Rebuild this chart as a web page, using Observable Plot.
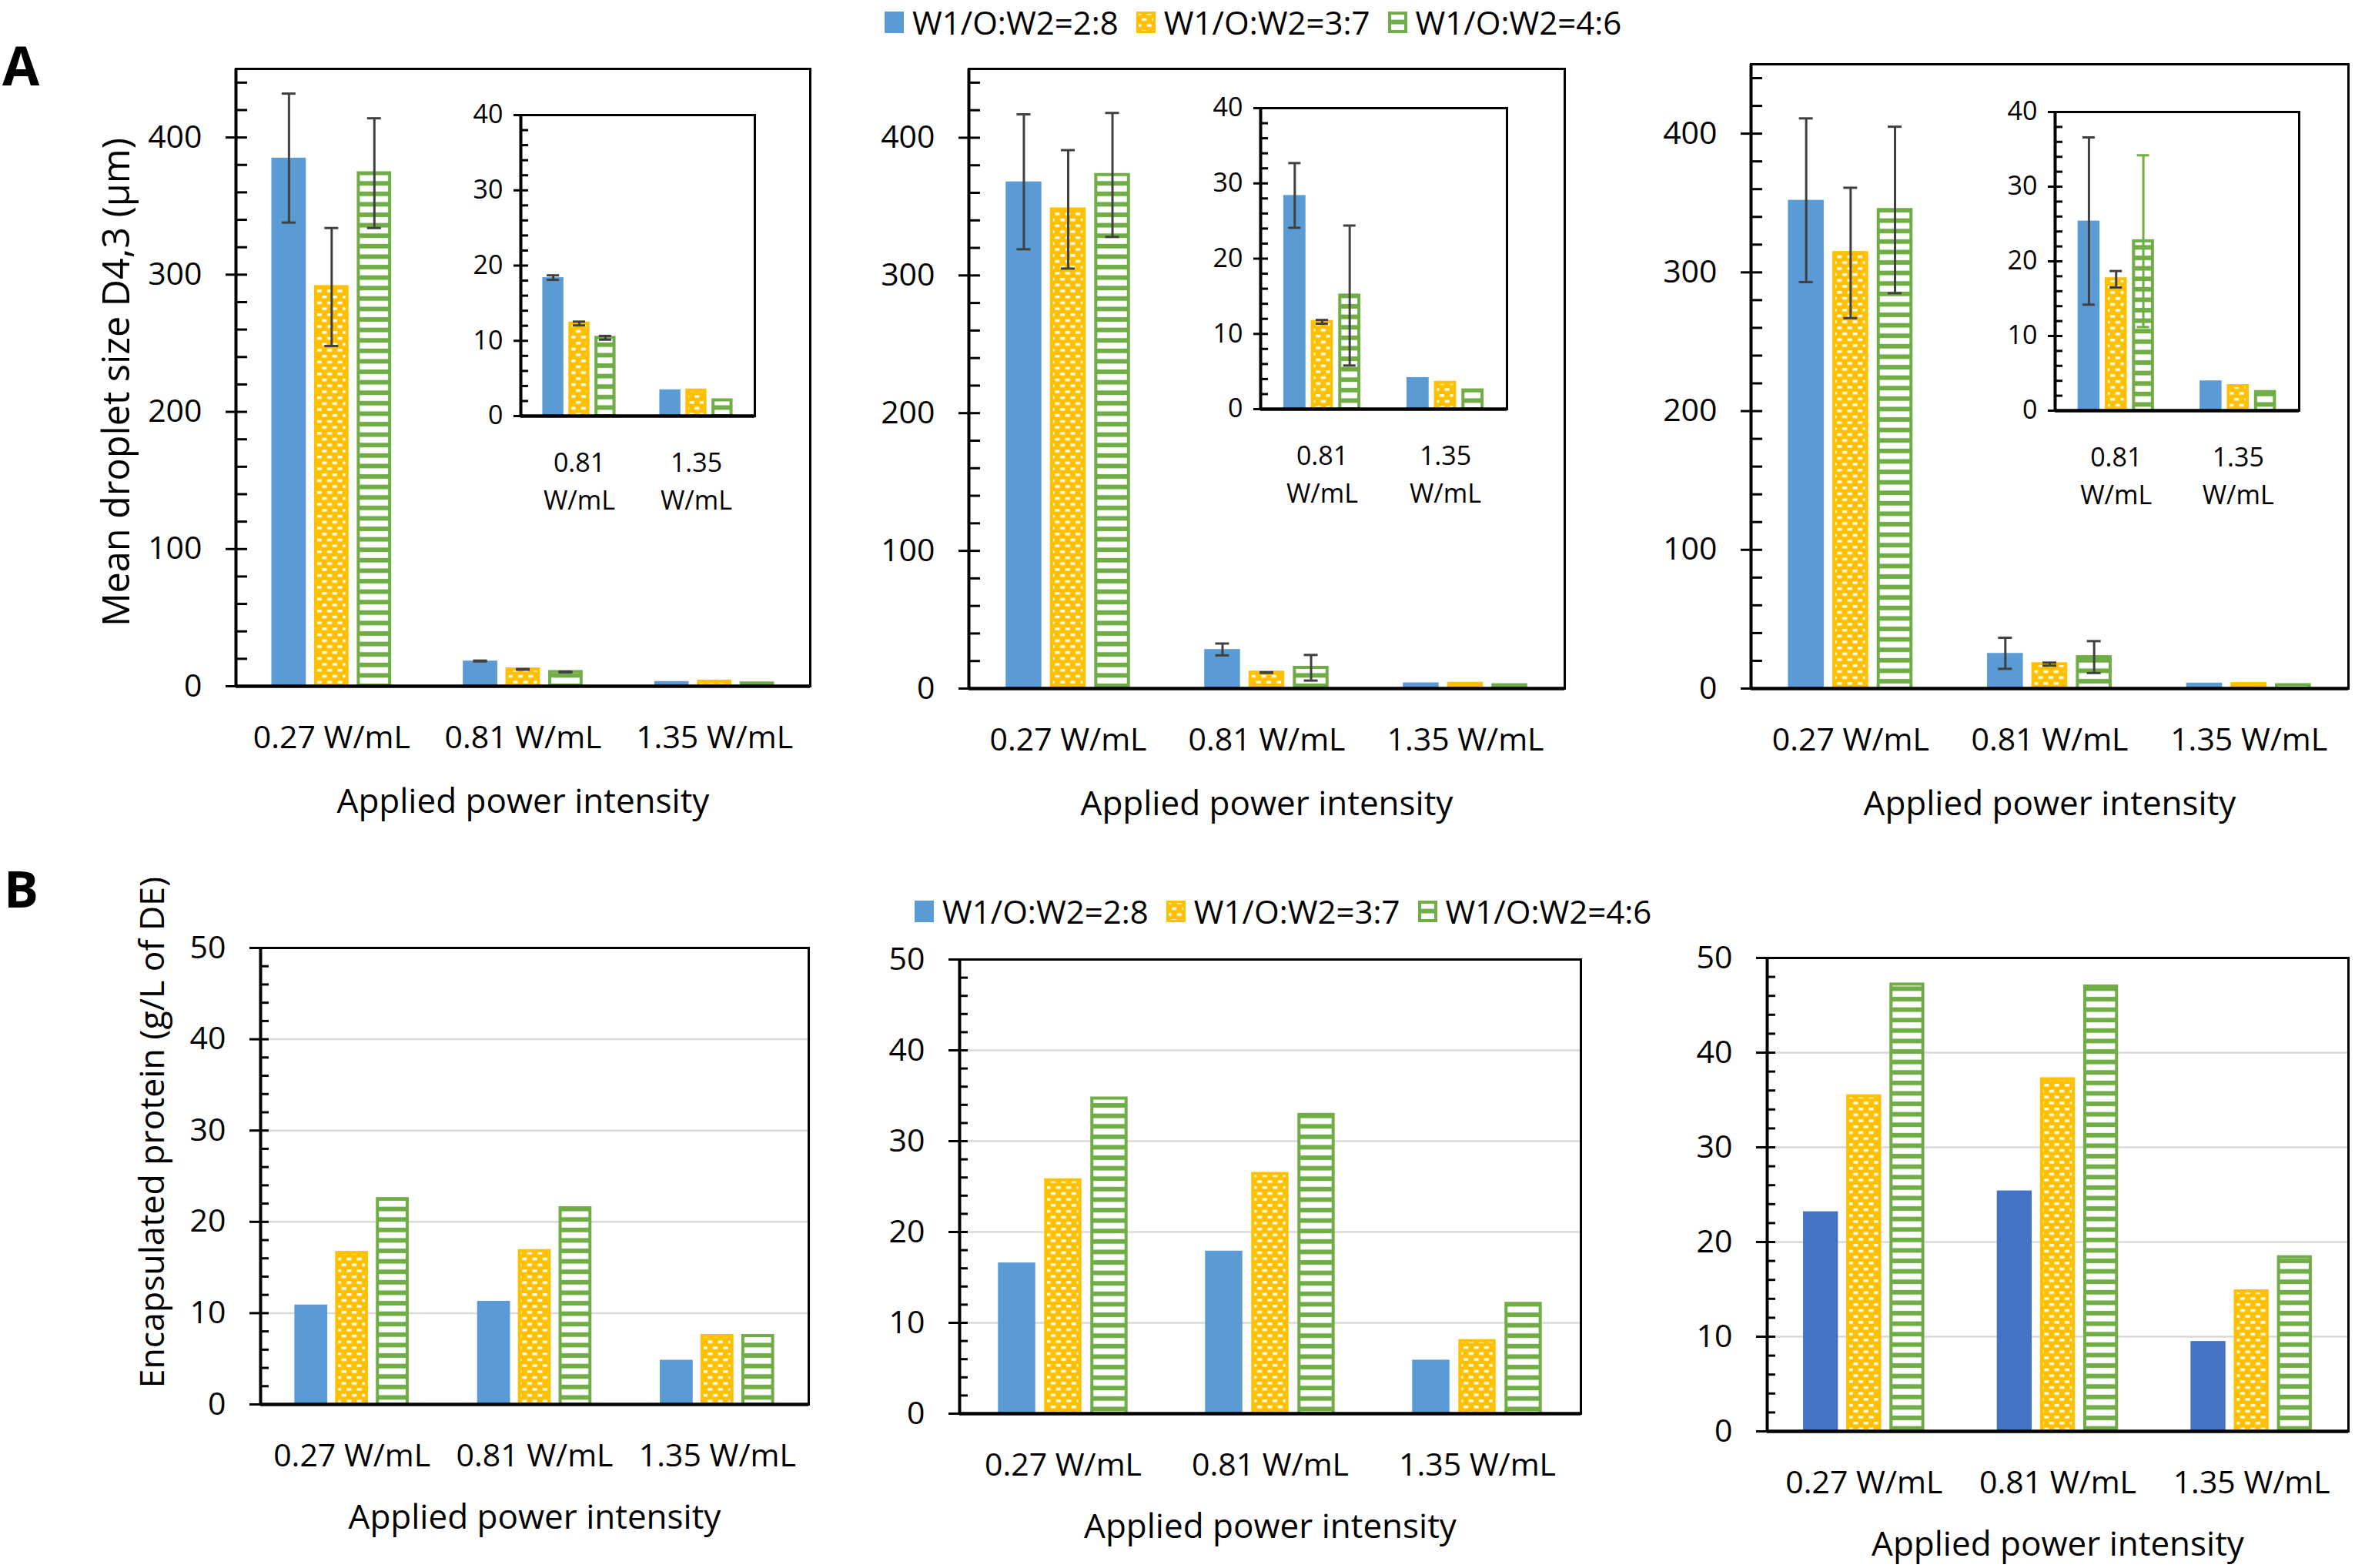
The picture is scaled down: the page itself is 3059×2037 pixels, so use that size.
<!DOCTYPE html>
<html><head><meta charset="utf-8">
<script src="https://cdn.jsdelivr.net/npm/d3@7"></script>
<script src="https://cdn.jsdelivr.net/npm/@observablehq/plot@0.6"></script>
<style>
body{margin:0;background:#fff;}
#page{position:relative;width:3059px;height:2037px;overflow:hidden;font-family:"Open Sans",sans-serif;color:#000;background:#fff;}
.panel-letter{position:absolute;font-weight:bold;line-height:1;font-family:"Open Sans",sans-serif;}
.legend{position:absolute;display:flex;align-items:center;font-size:42px;line-height:1;white-space:nowrap;}
.legend .item{display:flex;align-items:center;margin-right:23px;}
.legend svg{margin-right:11px;}
</style></head><body>
<svg width="0" height="0" style="position:absolute">
  <defs>
    <pattern id="dots" patternUnits="userSpaceOnUse" width="13.4" height="15.4">
      <rect width="13.4" height="15.4" fill="#FFC000"/>
      <rect x="0.4" y="1" width="6" height="3.4" fill="#ffffff"/>
      <rect x="7.1" y="8.7" width="6" height="3.4" fill="#ffffff"/>
    </pattern>
    <pattern id="stripes" patternUnits="userSpaceOnUse" width="14" height="13.6">
      <rect width="14" height="13.6" fill="#70AD47"/>
      <rect y="3" width="14" height="7.6" fill="#ffffff"/>
    </pattern>
  </defs>
</svg>
<div id="page"></div>
<script>
// ---------- data ----------
const powers = ["0.27 W/mL", "0.81 W/mL", "1.35 W/mL"];
const series = ["W1/O:W2=2:8", "W1/O:W2=3:7", "W1/O:W2=4:6"];
const xTitle = "Applied power intensity";
const yTitleA = "Mean droplet size D4,3 (µm)";
const yTitleB = "Encapsulated protein (g/L of DE)";

// Panel A: mean droplet size (rows = series, cols = power)
const a1Mean = [[385, 18.4, 3.5], [291, 12.3, 3.4], [374, 10.4, 2.1]];
const a1Err  = [[47, 0.3, 0], [43, 0.25, 0], [40, 0.25, 0]];
const a2Mean = [[368, 28.4, 4.2], [348, 11.6, 3.5], [373, 15.1, 2.5]];
const a2Err  = [[49, 4.3, 0], [43, 0.25, 0], [45, 9.3, 0]];
const a3Mean = [[352, 25.4, 4.0], [314, 17.6, 3.3], [345, 22.7, 2.5]];
const a3Err  = [[59, 11.2, 0], [47, 1.1, 0], [60, 11.5, 0]];

// Panel B: encapsulated protein
const b1Val = [[10.9, 11.3, 4.85], [16.6, 16.8, 7.5], [22.5, 21.5, 7.5]];
const b2Val = [[16.6, 17.9, 5.9], [25.7, 26.4, 8.0], [34.7, 32.9, 12.1]];
const b3Val = [[23.2, 25.4, 9.5], [35.4, 37.2, 14.8], [47.2, 47.0, 18.4]];

// tick values
const ticksA = [0, 100, 200, 300, 400];
const ticksInset = [0, 10, 20, 30, 40];
const ticksB = [0, 10, 20, 30, 40, 50];
const gridB = [10, 20, 30, 40];

// ---------- styles ----------
const BLUE = "#5B9BD5", BLUE_DARK = "#4472C4", YELLOW = "#FFC000", GREEN = "#70AD47", ERR = "#404040";
const BW = 0.18, SP = 0.223;

const page = document.getElementById("page");

function panel(cfg) {
  const [L, R, T, B] = cfg.box;
  const mL = 290, mR = 14, mT = 14, mB = 200;
  const labels = cfg.labels;
  const n = labels.length;
  const unitPx = (R - L) / n;
  const capU = cfg.capPx / unitPx;
  const rows = [];
  cfg.values.forEach((arr, s) => arr.forEach((v, c) =>
    rows.push({s, c, v, e: cfg.errors ? cfg.errors[s][c] : 0})));
  const cx = d => d.c + 0.5 + (d.s - 1) * SP;
  const fills = [cfg.blue || BLUE, "url(#dots)", "url(#stripes)"];
  const strokes = ["none", YELLOW, GREEN];
  const errCol = cfg.errColors || [ERR, ERR, ERR];
  const marks = [];
  if (cfg.grid) marks.push(Plot.ruleY(cfg.grid, {stroke: "#D9D9D9", strokeWidth: 2.5}));
  for (let s = 0; s < 3; s++) {
    marks.push(Plot.rectY(rows.filter(d => d.s === s), {
      x1: d => cx(d) - BW / 2, x2: d => cx(d) + BW / 2, y1: 0, y2: "v",
      fill: fills[s], stroke: strokes[s], strokeWidth: s ? 4 : 0,
      insetLeft: s ? 2 : 0, insetRight: s ? 2 : 0
    }));
  }
  const eb = rows.filter(d => d.e > 0);
  marks.push(Plot.ruleX(eb, {x: cx, y1: d => d.v - d.e, y2: d => d.v + d.e, stroke: d => errCol[d.s], strokeWidth: 3}));
  marks.push(Plot.ruleY(eb, {y: d => d.v + d.e, x1: d => cx(d) - capU, x2: d => cx(d) + capU, stroke: d => errCol[d.s], strokeWidth: 3}));
  marks.push(Plot.ruleY(eb, {y: d => d.v - d.e, x1: d => cx(d) - capU, x2: d => cx(d) + capU, stroke: d => errCol[d.s], strokeWidth: 3}));
  // y axis: labelled major ticks pointing out, all ticks pointing in
  marks.push(Plot.axisY(cfg.major, {tickSize: cfg.tickOut, tickPadding: cfg.tickPad, fontSize: cfg.tickFont,
    strokeWidth: 3, label: null, tickFormat: d => String(d)}));
  marks.push(Plot.axisY(cfg.minor, {tickSize: cfg.tickIn, dx: cfg.tickIn, fill: "none", strokeWidth: 3,
    label: null, tickFormat: () => ""}));
  marks.push(Plot.frame({stroke: "#000", strokeWidth: 3}));
  marks.push(Plot.ruleY([0], {stroke: "#000", strokeWidth: 4.5}));
  marks.push(Plot.ruleX([0], {stroke: "#000", strokeWidth: 4}));
  marks.push(Plot.text(labels, {x: (d, i) => i + 0.5, frameAnchor: "bottom", dy: cfg.labDy,
    fontSize: cfg.labFont, lineAnchor: "middle", lineHeight: cfg.lineHeight || 1}));
  if (cfg.xTitle) marks.push(Plot.text([cfg.xTitle], {frameAnchor: "bottom", dy: cfg.titleDy, fontSize: 44, lineAnchor: "middle"}));
  if (cfg.yTitle) marks.push(Plot.text([cfg.yTitle], {frameAnchor: "left", rotate: -90, dx: cfg.yTitleDx, dy: cfg.yTitleDy || 0,
    fontSize: cfg.yTitleFont, lineAnchor: "middle", textAnchor: "middle"}));
  const svg = Plot.plot({
    width: (R - L) + mL + mR, height: (B - T) + mT + mB,
    marginLeft: mL, marginRight: mR, marginTop: mT, marginBottom: mB,
    x: {domain: [0, n], axis: null},
    y: {domain: [0, cfg.ymax], label: null},
    color: {type: "identity"},
    style: {background: "transparent", overflow: "visible", fontFamily: "'Open Sans', sans-serif", color: "#000"},
    marks
  });
  svg.style.position = "absolute";
  svg.style.left = (L - mL) + "px";
  svg.style.top = (T - mT) + "px";
  svg.style.maxWidth = "none";
  page.appendChild(svg);
}

const mainA = {ymax: 450, major: ticksA, minor: d3.range(0, 450, 20), tickOut: 13, tickIn: 15, tickPad: 31, tickFont: 41,
  labels: powers, labDy: 67, labFont: 41, xTitle, titleDy: 150, capPx: 9};
const insetA = {ymax: 40, major: ticksInset, minor: d3.range(0, 41, 2), tickOut: 9, tickIn: 10, tickPad: 14, tickFont: 34,
  labels: powers.slice(1).map(p => p.replace(" ", "\n")), labDy: 81, labFont: 34, lineHeight: 1.45, capPx: 8};
const mainB = {ymax: 50, major: ticksB, minor: d3.range(0, 51, 2), tickOut: 14, tickIn: 11, tickPad: 31, tickFont: 41,
  labels: powers, labDy: 67, labFont: 41, xTitle, titleDy: 147, grid: gridB, capPx: 9};
const cols = (m, idx) => m.map(r => idx.map(i => r[i]));

// Panel A
panel({...mainA, box: [306, 1052, 89, 891], values: a1Mean, errors: a1Err, yTitle: yTitleA, yTitleDx: -154, yTitleDy: 6, yTitleFont: 48.5});
panel({...mainA, box: [1258, 2032, 89, 894], values: a2Mean, errors: a2Err});
panel({...mainA, box: [2274, 3050, 83, 894], values: a3Mean, errors: a3Err});
panel({...insetA, box: [676, 980, 149, 540], values: cols(a1Mean, [1, 2]), errors: cols(a1Err, [1, 2])});
panel({...insetA, box: [1637, 1957, 140, 531], values: cols(a2Mean, [1, 2]), errors: cols(a2Err, [1, 2])});
panel({...insetA, box: [2669, 2986, 145, 533], values: cols(a3Mean, [1, 2]), errors: cols(a3Err, [1, 2]), errColors: [ERR, ERR, GREEN]});
// Panel B
panel({...mainB, box: [338, 1050, 1231, 1824], values: b1Val, yTitle: yTitleB, yTitleDx: -140, yTitleDy: -57, yTitleFont: 44.5});
panel({...mainB, box: [1246, 2053, 1246, 1836], values: b2Val});
panel({...mainB, box: [2295, 3050, 1244, 1859], values: b3Val, blue: BLUE_DARK});

// panel letters
function letter(t, left, top, size) {
  const d = document.createElement("div");
  d.className = "panel-letter"; d.textContent = t;
  d.style.left = left + "px"; d.style.top = top + "px"; d.style.fontSize = size + "px";
  page.appendChild(d);
}
letter("A", 3, 49, 70);
letter("B", 5, 1120, 67);

// legends
function legend(left, top) {
  const lg = document.createElement("div");
  lg.className = "legend";
  lg.style.left = left + "px"; lg.style.top = top + "px";
  const sw = [
    `<rect x="0" y="0" width="25" height="28" fill="${BLUE}"/>`,
    `<rect x="1.5" y="1.5" width="22" height="25" fill="url(#dots)" stroke="${YELLOW}" stroke-width="3"/>`,
    `<rect x="2" y="2" width="21" height="24" fill="url(#stripes)" stroke="${GREEN}" stroke-width="4"/>`
  ];
  series.forEach((s, i) => {
    const it = document.createElement("div");
    it.className = "item";
    it.innerHTML = `<svg width="25" height="28">${sw[i]}</svg><span>${s}</span>`;
    lg.appendChild(it);
  });
  page.appendChild(lg);
}
legend(1149, 8);
legend(1188, 1163);
</script>
</body></html>
